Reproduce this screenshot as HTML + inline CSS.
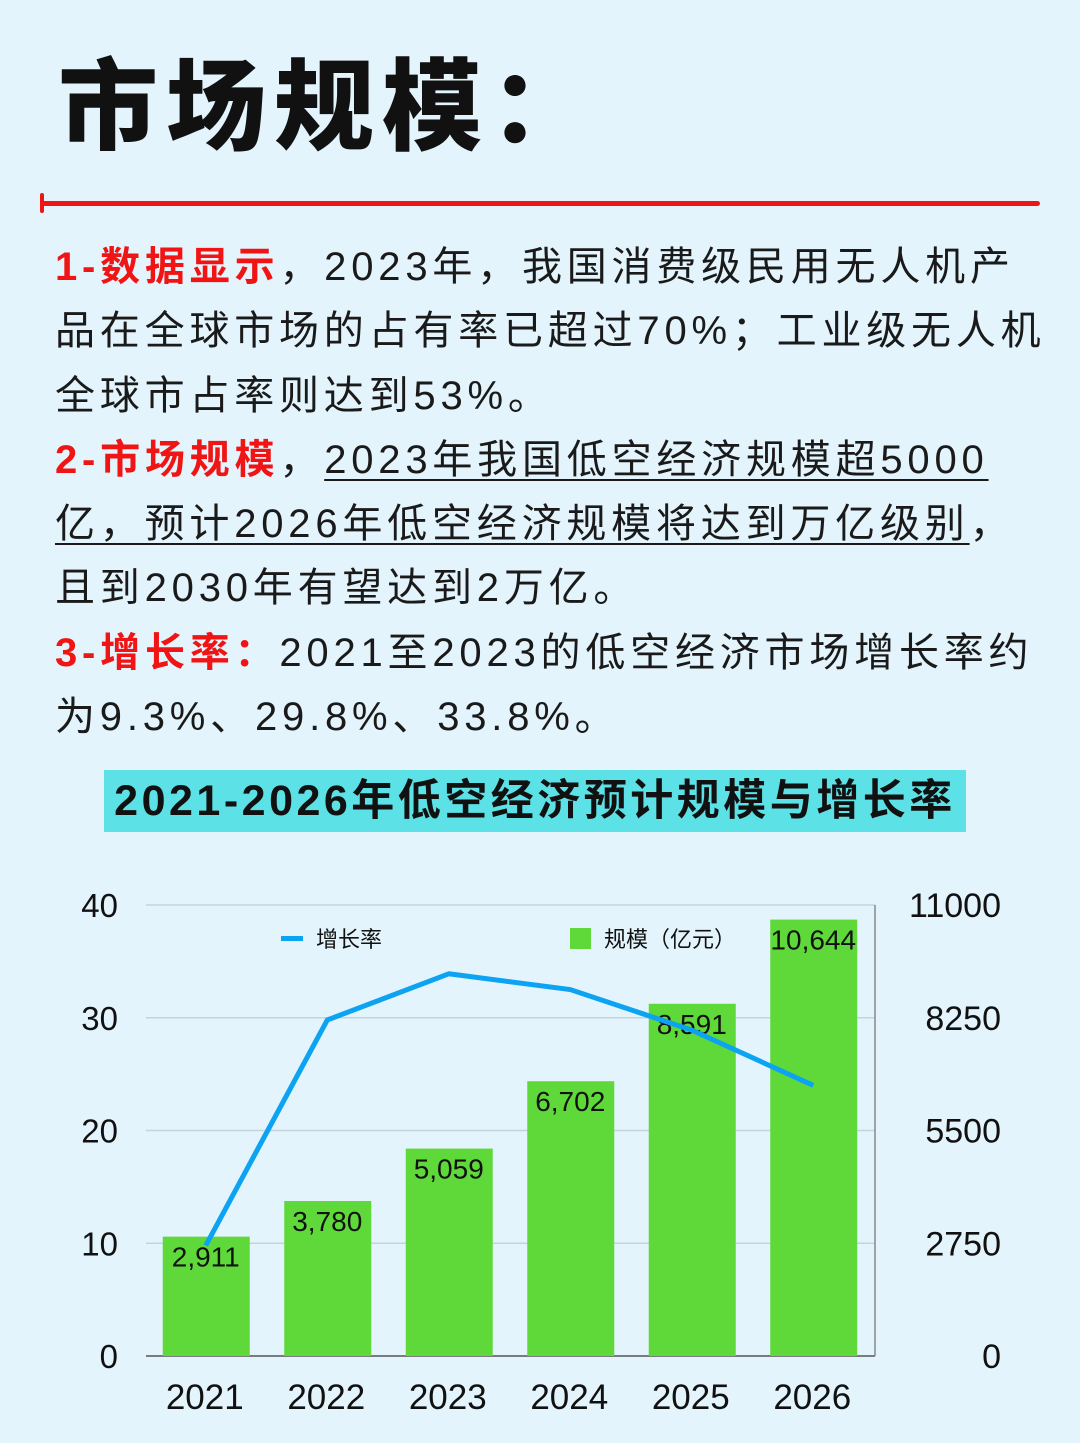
<!DOCTYPE html>
<html><head><meta charset="utf-8"><style>
body{margin:0;width:1080px;height:1443px;background:#e3f4fc;font-family:"Liberation Sans","Noto Sans CJK SC",sans-serif;position:relative;overflow:hidden}
.h1{position:absolute;left:58px;top:48px;font-size:100px;font-weight:900;letter-spacing:8px;color:#111;line-height:120px}
.rl{position:absolute;left:42px;top:201px;width:998px;height:5px;background:#f01414;border-radius:3px}
.rt{position:absolute;left:40px;top:193px;width:4px;height:20px;background:#f01414;border-radius:2px}
.txt{position:absolute;left:55px;top:235px;width:1040px;font-size:40px;line-height:64.3px;color:#1a1a1a;letter-spacing:4.8px;white-space:nowrap}
.r{color:#f01414;font-weight:bold}
.u{text-decoration:underline;text-underline-offset:6px;text-decoration-thickness:2px}
.ct{position:absolute;left:104px;top:770px;width:862px;height:62px;background:#5ce1e6;font-size:43px;font-weight:bold;text-align:center;line-height:62px;color:#111;letter-spacing:3.5px}
svg{position:absolute;left:0;top:0}
</style></head><body>
<div class="h1">市场规模：</div>
<div class="rt"></div>
<div class="rl"></div>
<div class="txt"><span class="r">1-数据显示</span>，2023年，我国消费级民用无人机产<br>品在全球市场的占有率已超过70%；工业级无人机<br>全球市占率则达到53%。<br><span class="r">2-市场规模</span>，<span class="u">2023年我国低空经济规模超5000</span><br><span class="u">亿，预计2026年低空经济规模将达到万亿级别</span>，<br>且到2030年有望达到2万亿。<br><span class="r">3-增长率：</span>2021至2023的低空经济市场增长率约<br>为9.3%、29.8%、33.8%。</div>
<div class="ct">2021-2026年低空经济预计规模与增长率</div>
<svg id="c" width="1080" height="1443"></svg>
<script>
const years=["2021","2022","2023","2024","2025","2026"];
const scale=[2911,3780,5059,6702,8591,10644];
const scaleLabels=["2,911","3,780","5,059","6,702","8,591","10,644"];
const growth=[9.8,29.8,33.9,32.5,28.9,24.0];
const leftTicks=[0,10,20,30,40];
const rightTicks=["0","2750","5500","8250","11000"];
const L=146,R=875,Y0=1356,Y1=905;
const yL=v=>Y0-(v/40)*(Y0-Y1);
const yR=v=>Y0-(v/11000)*(Y0-Y1);
const xC=i=>L+(R-L)/6*(i+0.5);
const s=document.getElementById('c');const NS="http://www.w3.org/2000/svg";
function el(t,a,txt){const e=document.createElementNS(NS,t);for(const k in a)e.setAttribute(k,a[k]);if(txt!=null)e.textContent=txt;s.appendChild(e);return e;}
leftTicks.forEach((t,i)=>{
 const g=el('line',{x1:L,x2:R,y1:yL(t),y2:yL(t),stroke:i==0?'#555':'#c6d3da','stroke-width':1.5});
 
 
 const a=el('text',{x:118,y:yL(t)+12,'text-anchor':'end','font-size':33,fill:'#111'},t);
 
 
 const b=el('text',{x:1001,y:yL(t)+12,'text-anchor':'end','font-size':34,fill:'#111'},rightTicks[i]);
 
 
});
const ax=el('line',{x1:R,x2:R,y1:Y1,y2:Y0,stroke:'#888','stroke-width':1.5});


scale.forEach((v,i)=>{
 const r=el('rect',{x:xC(i)-44,y:yR(v),width:87,height:Y0-yR(v),fill:'#5fd83a'});
 
 
 const t=el('text',{x:xC(i)-1,y:yR(v)+30,'text-anchor':'middle','font-size':28,fill:'#111'},scaleLabels[i]);
 
 
 const y=el('text',{x:xC(i)-2,y:1409,'text-anchor':'middle','font-size':35,fill:'#111'},years[i]);
 
 
});
const p=el('polyline',{points:growth.map((g,i)=>(xC(i)-1)+','+yL(g)).join(' '),fill:'none',stroke:'#0ba3f2','stroke-width':5,'stroke-linejoin':'round'});


const l1=el('rect',{x:281,y:936,width:22,height:5,fill:'#0ba3f2'});


const l2=el('text',{x:316,y:947,'font-size':22,fill:'#111'},'增长率');


const l3=el('rect',{x:570,y:928,width:21,height:21,fill:'#5fd83a'});


const l4=el('text',{x:604,y:947,'font-size':22,fill:'#111'},'规模（亿元）');


</script>
</body></html>
